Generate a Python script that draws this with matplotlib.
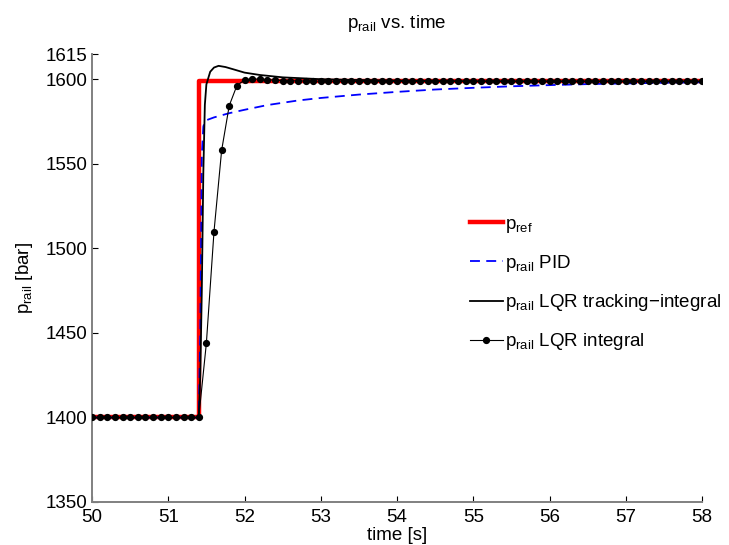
import numpy as np
import matplotlib
matplotlib.use("Agg")
import matplotlib.pyplot as plt

plt.rcParams['font.family'] = ['Liberation Sans', 'DejaVu Sans']
plt.rcParams['mathtext.default'] = 'regular'
plt.rcParams['mathtext.fontset'] = 'custom'
plt.rcParams['mathtext.rm'] = 'Liberation Sans'
plt.rcParams['mathtext.it'] = 'Liberation Sans'

# reference step
ref_t = [50.0, 51.4, 51.4, 58.0]
ref_p = [1400.0, 1400.0, 1598.8, 1598.8]

# PID response
pid_t = [50.0, 51.40, 51.42, 51.44, 51.46, 51.48, 51.6, 51.8, 52.0, 52.3, 52.7,
         53.0, 53.5, 54.0, 54.5, 55.0, 55.5, 56.0, 56.5, 57.0, 57.5, 58.0]
pid_p = [1400.0, 1400.0, 1450.0, 1555.0, 1572.0, 1575.5, 1577.5, 1580.0, 1582.0,
         1584.8, 1587.5, 1589.0, 1591.0, 1592.6, 1594.0, 1595.0, 1595.9, 1596.6,
         1597.2, 1597.6, 1598.0, 1598.3]

# LQR tracking-integral response
lqt_t = [50.0, 51.40, 51.42, 51.44, 51.46, 51.48, 51.50, 51.55, 51.60, 51.66,
         51.75, 51.85, 52.0, 52.2, 52.5, 53.0, 53.5, 54.0, 55.0, 58.0]
lqt_p = [1400.0, 1400.0, 1425.0, 1475.0, 1545.0, 1585.0, 1597.0, 1604.5, 1607.0,
         1608.0, 1607.3, 1606.0, 1604.0, 1602.6, 1601.2, 1600.1, 1599.6, 1599.2,
         1598.9, 1598.8]

# LQR integral response (sampled every 0.1 s)
lqi_t = [50.0, 50.1, 50.2, 50.3, 50.4, 50.5, 50.6, 50.7, 50.8, 50.9,
         51.0, 51.1, 51.2, 51.3, 51.4, 51.5, 51.6, 51.7, 51.8, 51.9,
         52.0, 52.1, 52.2, 52.3, 52.4, 52.5, 52.6, 52.7, 52.8, 52.9,
         53.0, 53.1, 53.2, 53.3, 53.4, 53.5, 53.6, 53.7, 53.8, 53.9,
         54.0, 54.1, 54.2, 54.3, 54.4, 54.5, 54.6, 54.7, 54.8, 54.9,
         55.0, 55.1, 55.2, 55.3, 55.4, 55.5, 55.6, 55.7, 55.8, 55.9,
         56.0, 56.1, 56.2, 56.3, 56.4, 56.5, 56.6, 56.7, 56.8, 56.9,
         57.0, 57.1, 57.2, 57.3, 57.4, 57.5, 57.6, 57.7, 57.8, 57.9, 58.0]
lqi_p = [1400.0, 1400.0, 1400.0, 1400.0, 1400.0, 1400.0, 1400.0, 1400.0, 1400.0, 1400.0,
         1400.0, 1400.0, 1400.0, 1400.0, 1400.0, 1444.0, 1510.0, 1558.0, 1584.5, 1596.3,
         1599.6, 1600.3, 1600.1, 1599.8, 1599.5, 1599.3, 1599.2, 1599.1, 1599.0, 1599.0,
         1598.9, 1598.9, 1598.9, 1598.9, 1598.8, 1598.8, 1598.8, 1598.8, 1598.8, 1598.8,
         1598.8, 1598.8, 1598.8, 1598.8, 1598.8, 1598.8, 1598.8, 1598.8, 1598.8, 1598.8,
         1598.8, 1598.8, 1598.8, 1598.8, 1598.8, 1598.8, 1598.8, 1598.8, 1598.8, 1598.8,
         1598.8, 1598.8, 1598.8, 1598.8, 1598.8, 1598.8, 1598.8, 1598.8, 1598.8, 1598.8,
         1598.8, 1598.8, 1598.8, 1598.8, 1598.8, 1598.8, 1598.8, 1598.8, 1598.8, 1598.8, 1598.8]

x_ticks = [50, 51, 52, 53, 54, 55, 56, 57, 58]
y_ticks = [1350, 1400, 1450, 1500, 1550, 1600, 1615]

FS = 13.5

fig = plt.figure(figsize=(7.29, 5.45), dpi=100)
ax = fig.add_axes([0.1262, 0.0789, 0.8368, 0.8220])

ax.plot(ref_t, ref_p, color='#ff0000', lw=3.2, label='$p_{ref}$', zorder=2)
ax.plot(pid_t, pid_p, color='#0000ff', lw=1.3, ls=(0, (5.5, 3.5)), label='$p_{rail}$ PID', zorder=3)
ax.plot(lqt_t, lqt_p, color='black', lw=1.3, label='$p_{rail}$ LQR tracking\u2212integral', zorder=4)
ax.plot(lqi_t, lqi_p, color='black', lw=0.8, marker='o', ms=4.2,
        label='$p_{rail}$ LQR integral', zorder=5)

ax.set_xlim(50, 58)
ax.set_ylim(1350, 1615)
ax.set_xticks(x_ticks)
ax.set_yticks(y_ticks)
ax.tick_params(direction='in', length=4, width=0.8, labelsize=FS, color='black')
ax.tick_params(axis='x', pad=5)
ax.tick_params(axis='y', pad=3)
for s in ['top', 'right']:
    ax.spines[s].set_visible(False)
for s in ['left', 'bottom']:
    ax.spines[s].set_color('#808080')
    ax.spines[s].set_linewidth(1.4)

ax.set_title('$p_{rail}$ vs. time', fontsize=FS, pad=19)
ax.set_xlabel('time [s]', fontsize=FS, labelpad=1)
ax.set_ylabel('$p_{rail}$ [bar]', fontsize=FS, labelpad=8)

leg = ax.legend(loc='upper left', bbox_to_anchor=(0.607, 0.656), frameon=False,
                fontsize=FS, handlelength=1.75, handletextpad=0.12,
                labelspacing=0.97, borderaxespad=0)

fig.savefig('out.png', dpi=100)
